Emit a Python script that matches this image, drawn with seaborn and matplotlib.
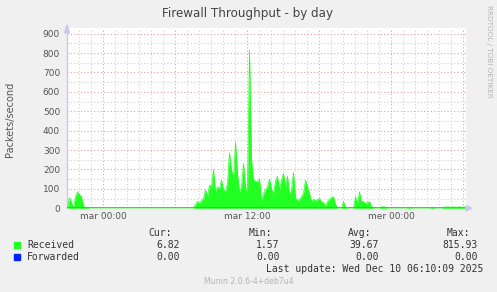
import numpy as np
import pandas as pd
import matplotlib
matplotlib.use("Agg")
import matplotlib.pyplot as plt
import seaborn as sns

# ---- data (10-minute samples, hours relative to "mar 00:00") ----
start_hour = -3.0
step_hours = 1 / 6
received = [
    2, 55, 30, 2, 60, 85, 70, 60, 10, 5, 5, 1.6,
    1.6, 1.6, 1.6, 1.6, 1.6, 1.6, 1.6, 1.6, 1.6, 1.6, 1.6, 1.6,
    1.6, 1.6, 1.6, 1.6, 1.6, 1.6, 1.6, 1.6, 1.6, 1.6, 1.6, 1.6,
    1.6, 1.6, 1.6, 1.6, 1.6, 1.6, 1.6, 1.6, 1.6, 1.6, 1.6, 1.6,
    1.6, 1.6, 1.6, 1.6, 1.6, 1.6, 1.6, 1.6, 1.6, 1.6, 1.6, 1.6,
    1.6, 1.6, 1.6, 1.6, 20, 35, 25, 40, 50, 95, 60, 120,
    110, 200, 85, 110, 100, 145, 95, 85, 130, 285, 200, 155,
    340, 180, 85, 110, 230, 110, 70, 816, 250, 145, 140, 135,
    150, 40, 75, 95, 110, 150, 100, 75, 140, 165, 95, 145,
    180, 110, 165, 75, 90, 185, 55, 40, 45, 60, 78, 145,
    110, 78, 35, 45, 40, 45, 50, 35, 30, 10, 35, 45,
    55, 60, 20, 2, 2, 2, 35, 5, 2, 2, 2, 2,
    60, 25, 85, 35, 35, 25, 30, 35, 10, 2, 2, 2,
    2, 8, 8, 6, 2, 2, 2, 2, 2, 2, 2, 2,
    2, 2, 3, 5, 2, 2, 2, 2, 2, 2, 2, 2,
    2, 2, 5, 4, 2, 2, 2, 2, 6, 6, 7, 6,
    6, 7, 6, 6, 7, 6, 6, 6.82,
]
forwarded = [0.0] * len(received)

tick_hours = [0, 12, 24]
tick_labels = ["mar 00:00", "mar 12:00", "mer 00:00"]
y_ticks = [0, 100, 200, 300, 400, 500, 600, 700, 800, 900]

series_names = ["Received", "Forwarded"]
series_colors = ["#22ff22", "#0022ff"]
cur_vals = ["6.82", "0.00"]
min_vals = ["1.57", "0.00"]
avg_vals = ["39.67", "0.00"]
max_vals = ["815.93", "0.00"]

hours = start_hour + step_hours * np.arange(len(received))
df = pd.DataFrame({"hour": hours, "Received": received, "Forwarded": forwarded})

# ---- figure ----
sns.set_style("white")
plt.rcParams["font.family"] = ["DejaVu Sans"]
W, H = 497, 292
fig = plt.figure(figsize=(W / 100, H / 100), dpi=100, facecolor="#f0f0f0")

def fx(px):
    return px / W

def fy(py):
    return 1 - py / H

x0, x1, ytop, ybot = 67, 466, 28, 208.3
ax = fig.add_axes([fx(x0), fy(ybot), (x1 - x0) / W, (ybot - ytop) / H])
ax.set_facecolor("white")
ax.set_xlim(-3.04, 30.21)
ax.set_ylim(0, 929)

# grid
for h in np.arange(-2, 31, 1):
    major = (h % 6 == 0)
    ax.axvline(h, color="#e4a0a0" if major else "#cfcfcf", lw=0.8,
               ls=(0, (1, 2)), zorder=0)
for v in np.arange(50, 901, 50):
    major = (v % 100 == 0)
    ax.axhline(v, color="#e4a0a0" if major else "#cfcfcf", lw=0.8,
               ls=(0, (1, 2)), zorder=0)

# data
ax.fill_between(df["hour"], 0, df["Received"], color=series_colors[0], lw=0, zorder=2)
sns.lineplot(data=df, x="hour", y="Received", color=series_colors[0], lw=0.5,
             ax=ax, zorder=3)
sns.lineplot(data=df, x="hour", y="Forwarded", color="#6f7fff",
             lw=1.2, ax=ax, zorder=4)

ax.set_xlabel("")
ax.set_ylabel("")
ax.set_xticks(tick_hours)
ax.set_xticklabels(tick_labels)
ax.set_yticks(y_ticks)
ax.tick_params(axis="both", length=0, labelsize=6.5, colors="#555555")
ax.tick_params(axis="y", pad=5)
ax.tick_params(axis="x", pad=2.5)
for s in ["top", "right", "bottom"]:
    ax.spines[s].set_visible(False)
ax.spines["left"].set_color("#c8c8f0")
ax.spines["left"].set_linewidth(1)

# axis arrows
fig.patches.append(plt.Polygon([[fx(64.5), fy(33)], [fx(69.5), fy(33)], [fx(67), fy(25)]],
                               closed=True, color="#c8c8f0", transform=fig.transFigure))
fig.patches.append(plt.Polygon([[fx(466), fy(205.8)], [fx(466), fy(210.8)], [fx(472), fy(208.3)]],
                               closed=True, color="#c8c8f0", transform=fig.transFigure))

# titles
fig.text(fx(248), fy(13), "Firewall Throughput - by day", ha="center", va="center",
         fontsize=8.6, color="#444444")
fig.text(fx(10), fy(119), "Packets/second", rotation=90, ha="center", va="center",
         fontsize=7.0, color="#555555")
fig.text(fx(488.5), fy(5), "RRDTOOL / TOBI OETIKER", rotation=270, ha="center", va="top",
         fontsize=5.2, color="#b4b4b4")

# legend block
mono = "DejaVu Sans Mono"
lfs = 7.0
lc = "#333333"
col_right = [172, 272, 371, 470]
heads = ["Cur:", "Min:", "Avg:", "Max:"]
for xr, t in zip(col_right, heads):
    fig.text(fx(xr), fy(233.5), t, ha="right", va="center", family=mono, fontsize=lfs, color=lc)
val_right = [179.5, 279.5, 378.5, 477.5]
rows_y = [244.5, 257]
for i, name in enumerate(series_names):
    yy = rows_y[i]
    fig.patches.append(plt.Rectangle((fx(14), fy(yy + 3)), 6 / W, 6 / H,
                                     color=series_colors[i], transform=fig.transFigure))
    fig.text(fx(27), fy(yy), name, ha="left", va="center", family=mono, fontsize=lfs, color=lc)
    for xr, v in zip(val_right, [cur_vals[i], min_vals[i], avg_vals[i], max_vals[i]]):
        fig.text(fx(xr), fy(yy), v, ha="right", va="center", family=mono, fontsize=lfs, color=lc)
fig.text(fx(483), fy(269.5), "Last update: Wed Dec 10 06:10:09 2025", ha="right", va="center",
         family=mono, fontsize=lfs, color=lc)
fig.text(fx(249), fy(281.5), "Munin 2.0.6-4+deb7u4", ha="center", va="center",
         fontsize=5.6, color="#b4b4b4")

fig.savefig("out.png", dpi=100, facecolor=fig.get_facecolor())
